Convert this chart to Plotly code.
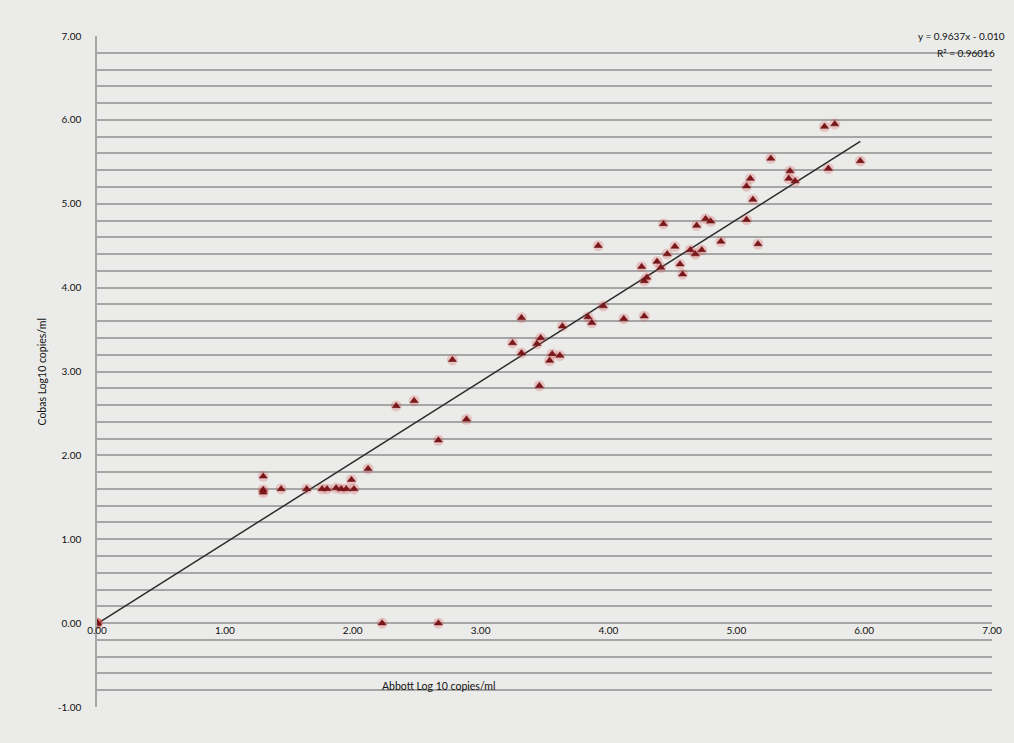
import plotly.graph_objects as go

# Abbott (x) vs Cobas (y), Log10 copies/ml
abbott = [0.00, 0.00, 0.00, 0.00, 1.30, 1.30, 1.30, 1.44, 1.64, 1.76,
          1.80, 1.87, 1.91, 1.95, 1.99, 2.01, 2.12, 2.23, 2.34, 2.48,
          2.67, 2.67, 2.78, 2.89, 3.25, 3.32, 3.32, 3.44, 3.46, 3.47,
          3.54, 3.56, 3.62, 3.64, 3.84, 3.87, 3.92, 3.96, 4.12, 4.26,
          4.28, 4.28, 4.30, 4.38, 4.41, 4.43, 4.46, 4.52, 4.56, 4.58,
          4.64, 4.68, 4.69, 4.73, 4.76, 4.80, 4.88, 5.08, 5.08, 5.11,
          5.13, 5.17, 5.27, 5.41, 5.42, 5.46, 5.69, 5.72, 5.77, 5.97]
cobas = [0.00, 0.00, 0.00, 0.00, 1.75, 1.59, 1.56, 1.60, 1.60, 1.60,
         1.60, 1.61, 1.60, 1.60, 1.71, 1.60, 1.84, 0.00, 2.59, 2.65,
         2.18, 0.00, 3.14, 2.43, 3.34, 3.64, 3.22, 3.33, 2.83, 3.40,
         3.13, 3.21, 3.19, 3.54, 3.65, 3.58, 4.50, 3.78, 3.63, 4.25,
         3.66, 4.08, 4.12, 4.31, 4.24, 4.76, 4.40, 4.49, 4.28, 4.16,
         4.45, 4.40, 4.74, 4.45, 4.82, 4.79, 4.55, 5.21, 4.81, 5.30,
         5.05, 4.52, 5.54, 5.30, 5.39, 5.27, 5.92, 5.42, 5.95, 5.51]

slope = 0.9637
intercept = -0.010
r2 = 0.96016

x_ticks = [0, 1, 2, 3, 4, 5, 6, 7]
y_ticks = [-1, 0, 1, 2, 3, 4, 5, 6, 7]

grid_col = "#a6a6a6"
bg = "#ebebe9"
font_fam = "Lato, 'DejaVu Sans', sans-serif"

fit_x = [0, max(abbott)]
fit_y = [slope * v + intercept for v in fit_x]

fig = go.Figure()
fig.add_trace(go.Scatter(x=fit_x, y=fit_y, mode="lines",
                         line=dict(color="#2b2b2b", width=1.5),
                         hoverinfo="skip", showlegend=False))
# soft red halo
fig.add_trace(go.Scatter(x=abbott, y=cobas, mode="markers",
                         marker=dict(symbol="circle", size=11,
                                     color="rgba(215,70,70,0.25)",
                                     line=dict(width=0)),
                         hoverinfo="skip", showlegend=False))
fig.add_trace(go.Scatter(x=abbott, y=cobas, mode="markers",
                         marker=dict(symbol="triangle-up", size=7,
                                     color="#7e161a",
                                     line=dict(color="#5a0c10", width=0.5)),
                         showlegend=False))

fig.update_layout(
    width=1014, height=743,
    margin=dict(l=97, r=17, t=36, b=36),
    paper_bgcolor=bg, plot_bgcolor=bg,
    font=dict(family=font_fam, size=10, color="#111"),
    xaxis=dict(range=[0, 7], tickvals=x_ticks,
               ticktext=[f"{v:.2f}" for v in x_ticks],
               showgrid=False, zeroline=False, showline=False,
               anchor="free", position=0.125, ticks="",
               tickfont=dict(size=10, color="#111")),
    yaxis=dict(range=[-1, 7], tickvals=y_ticks,
               ticktext=[f"{v:.2f}" for v in y_ticks],
               showgrid=True, gridcolor=grid_col, gridwidth=1.5,
               minor=dict(dtick=0.2, showgrid=True, gridcolor=grid_col,
                          gridwidth=1.5, tick0=0),
               zeroline=False, showline=True, linecolor=grid_col,
               linewidth=1.5, ticks="", ticklabelstandoff=12,
               tickfont=dict(size=10, color="#111")),
    annotations=[
        dict(text="Abbott Log 10 copies/ml", x=0.382, y=0.031,
             xref="paper", yref="paper", showarrow=False,
             xanchor="center", yanchor="middle",
             font=dict(size=10.5, color="#111")),
        dict(text="Cobas Log10 copies/ml", x=-0.062, y=0.5 + (0.5 * 671 - (372 - 36)) / 671,
             xref="paper", yref="paper", showarrow=False, textangle=-90,
             xanchor="center", yanchor="middle",
             font=dict(size=10.5, color="#111")),
        dict(text=f"y = {slope}x - {abs(intercept):.3f}", x=1.017, y=1.0,
             xref="paper", yref="paper", showarrow=False,
             xanchor="right", yanchor="middle",
             font=dict(size=10, color="#111")),
        dict(text=f"R² = {r2}", x=1.006, y=0.975,
             xref="paper", yref="paper", showarrow=False,
             xanchor="right", yanchor="middle",
             font=dict(size=10, color="#111")),
    ],
)

fig.write_html("out.html", config={"displayModeBar": False},
               post_script="document.body.style.margin='0px';"
                           "document.body.style.overflow='hidden';"
                           "document.body.style.background='" + bg + "';")
